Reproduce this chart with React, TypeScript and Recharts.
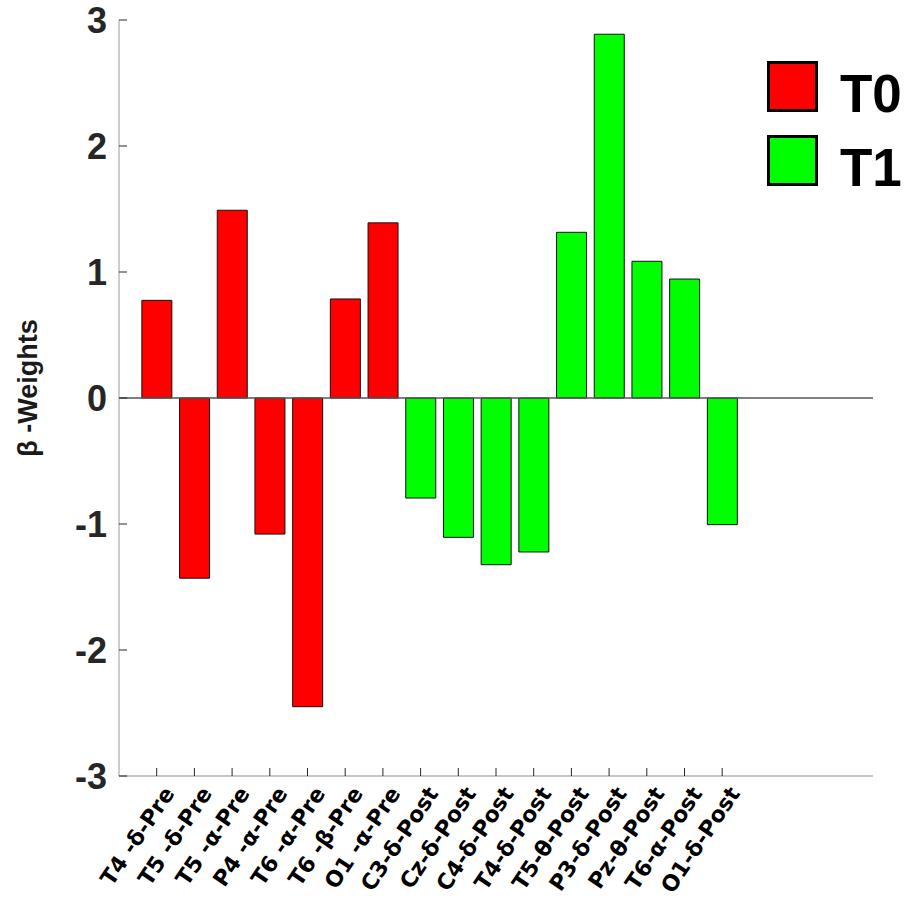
import { BarChart, Bar, XAxis, YAxis, ReferenceLine, Cell } from 'recharts';

// electrode - band - session labels, in plotting order
const channels = [
  'T4 -δ-Pre', 'T5 -δ-Pre', 'T5 -α-Pre', 'P4 -α-Pre', 'T6 -α-Pre', 'T6 -β-Pre', 'O1 -α-Pre',
  'C3-δ-Post', 'Cz-δ-Post', 'C4-δ-Post', 'T4-δ-Post', 'T5-θ-Post', 'P3-δ-Post', 'Pz-θ-Post',
  'T6-α-Post', 'O1-δ-Post',
];
const betaWeights = [
  0.775, -1.43, 1.49, -1.08, -2.45, 0.786, 1.39,
  -0.794, -1.106, -1.323, -1.222, 1.315, 2.887, 1.085, 0.944, -1.005,
];
const sessions = ['T0', 'T0', 'T0', 'T0', 'T0', 'T0', 'T0',
  'T1', 'T1', 'T1', 'T1', 'T1', 'T1', 'T1', 'T1', 'T1'];
const sessionNames = ['T0', 'T1'];
const sessionColors: Record<string, string> = { T0: '#ff0000', T1: '#00ff00' };
const yTicks = [-3, -2, -1, 0, 1, 2, 3];

const data = channels.map((label, i) => ({
  pos: i + 1,
  label,
  weight: betaWeights[i],
  session: sessions[i],
}));

const YTick = ({ x, y, payload }: any) => (
  <g>
    <line x1={x + 12} x2={x + 20} y1={y} y2={y} stroke="#262626" strokeWidth={1} />
    <text
      x={x}
      y={y}
      dy="0.36em"
      textAnchor="end"
      fontFamily="Liberation Sans, Arial, sans-serif"
      fontWeight="bold"
      fontSize={36}
      fill="#262626"
    >
      {payload.value}
    </text>
  </g>
);

const XTick = ({ x, y, payload }: any) => {
  const d = data.find((p) => p.pos === payload.value);
  return (
    <g>
      <line x1={x} x2={x} y1={y} y2={y - 8} stroke="#262626" strokeWidth={1} />
      <g transform={`translate(${x + 12},${y + 13}) rotate(-56)`}>
        <text
          x={0}
          y={0}
          dy="0.36em"
          textAnchor="end"
          fontFamily="DejaVu Sans, Verdana, sans-serif"
          fontWeight="bold"
          fontSize={22}
          fill="#000"
        >
          {d ? d.label : ''}
        </text>
      </g>
    </g>
  );
};

const YLabel = ({ viewBox }: any) => {
  const cx = viewBox.x + 37;
  const cy = viewBox.y + viewBox.height / 2 - 10;
  return (
    <text
      transform={`translate(${cx},${cy}) rotate(-90)`}
      textAnchor="middle"
      fontFamily="Liberation Sans, Arial, sans-serif"
      fontWeight="bold"
      fontSize={27}
      fill="#1a1a1a"
    >
      β -Weights
    </text>
  );
};

export default function App() {
  return (
    <div style={{ position: 'absolute', left: 0, top: 0, width: 905, height: 902, background: '#fff' }}>
      <BarChart
        width={905}
        height={902}
        data={data}
        margin={{ top: 20, right: 32, bottom: 0, left: 0 }}
      >
        <XAxis
          type="number"
          dataKey="pos"
          domain={[0, 20]}
          ticks={data.map((d) => d.pos)}
          interval={0}
          height={126}
          tickSize={0}
          tickMargin={0}
          tickLine={false}
          stroke="#8c8c8c"
          tick={<XTick />}
        />
        <YAxis
          type="number"
          domain={[-3, 3]}
          ticks={yTicks}
          width={119}
          tickSize={0}
          tickMargin={12}
          tickLine={false}
          stroke="#9a9a9a"
          tick={<YTick />}
          label={<YLabel />}
        />
        <ReferenceLine y={0} stroke="#555" strokeWidth={1.5} />
        <Bar dataKey="weight" barSize={30} stroke="#111" strokeWidth={1} isAnimationActive={false}>
          {data.map((d) => (
            <Cell key={d.pos} fill={sessionColors[d.session]} />
          ))}
        </Bar>
      </BarChart>
      <svg
        width={140}
        height={140}
        style={{ position: 'absolute', left: 765, top: 59 }}
      >
        {sessionNames.map((name, i) => (
          <g key={name} transform={`translate(0,${i * 74})`}>
            <rect x={3.5} y={3.5} width={48} height={48} fill={sessionColors[name]} stroke="#000" strokeWidth={3} />
            <text
              x={75}
              y={53}
              fontFamily="Liberation Sans, Arial, sans-serif"
              fontWeight="bold"
              fontSize={53}
              fill="#000"
            >
              {name}
            </text>
          </g>
        ))}
      </svg>
    </div>
  );
}
